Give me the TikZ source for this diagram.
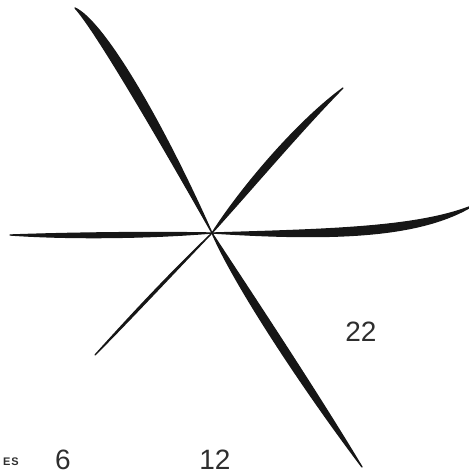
\documentclass[tikz,border=0pt]{standalone}
\usepackage{fontspec}
\setmainfont{Liberation Sans}
\usetikzlibrary{calc}
\definecolor{ink}{HTML}{161616}
\definecolor{printgray}{HTML}{2E2E2E}
% tapered brush line: start, control 1, control 2, end, half width
\newcommand\brushstroke[5]{%
  \filldraw[stroke] (#1) .. controls ($(#2)!#5!90:(#3)$) and ($(#3)!#5!-90:(#2)$) .. (#4)
    .. controls ($(#3)!#5!90:(#2)$) and ($(#2)!#5!-90:(#3)$) .. (#1) -- cycle;}
\begin{document}
\begin{tikzpicture}[
    x=1pt, y=-1pt,
    stroke/.style={fill=ink, draw=ink, line width=1.3pt, line join=round, line cap=round},
    numlabel/.style={inner sep=0pt, text=printgray, font=\fontsize{28}{28}\selectfont},
    tinylabel/.style={inner sep=0pt, text=printgray, font=\fontsize{11}{11}\selectfont\bfseries}
]
    \useasboundingbox (0,0) rectangle (469,475);

    % --- hub and line ends ---
    \coordinate (hub) at (212,233);
    \coordinate (endNW) at (75,8);
    \coordinate (endNE) at (343,88);
    \coordinate (endW) at (10,235);
    \coordinate (endE) at (474,205);
    \coordinate (endSW) at (95,355);
    \coordinate (endSE) at (362,467);

    % --- the six strokes ---
    \brushstroke{endNW}{98,24}{155,120}{hub}{6pt}
    \brushstroke{hub}{245,190}{300,125}{endNE}{4.5pt}
    \brushstroke{endW}{70,236}{150,235}{hub}{3.2pt}
    \brushstroke{hub}{330,235}{420,233}{endE}{5.5pt}
    \brushstroke{hub}{170,275}{130,318}{endSW}{1.3pt}
    \brushstroke{hub}{240,285}{310,390}{endSE}{5pt}

    % --- labels ---
    \node[numlabel] (n22) at (361,332) {22};
    \node[numlabel] (n6) at (63,460) {6};
    \node[numlabel] (n12) at (215,460) {12};
    \node[tinylabel] (tag) at (11,462) {E\kern1pt S};
\end{tikzpicture}
\end{document}
